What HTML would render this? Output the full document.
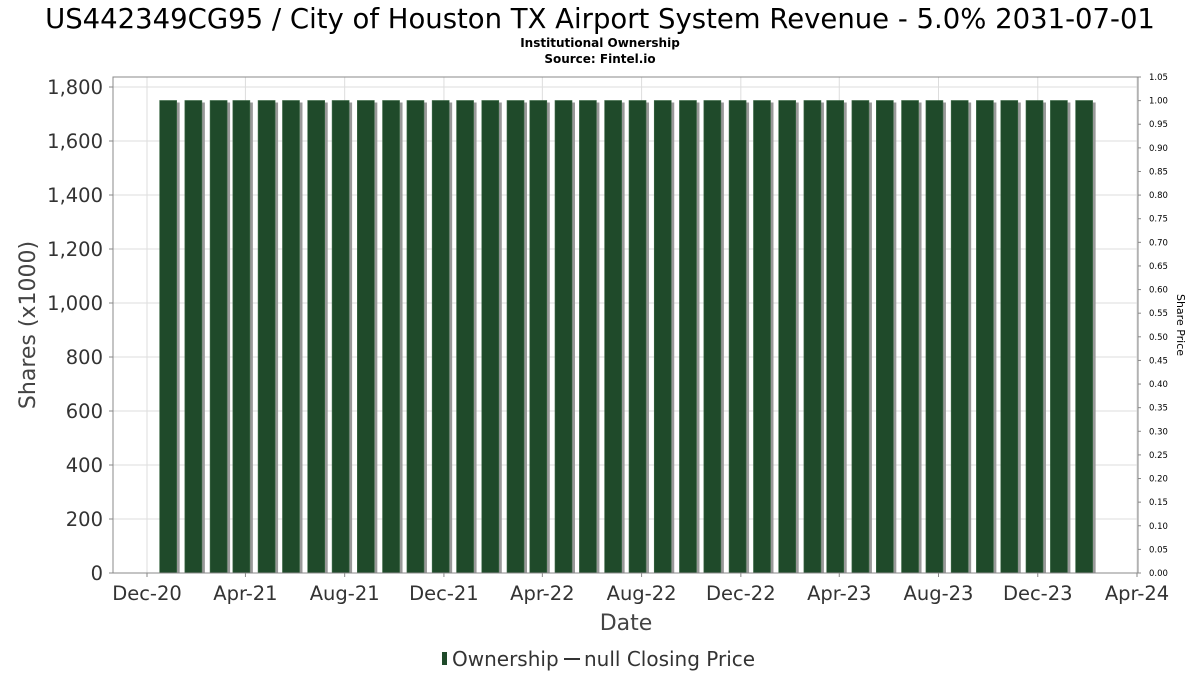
<!DOCTYPE html>
<html><head><meta charset="utf-8"><style>
body{margin:0;background:#fff;font-family:"DejaVu Sans","Liberation Sans",sans-serif;}
</style></head><body>
<svg id="c" width="1200" height="675" xmlns="http://www.w3.org/2000/svg">
<text x="600" y="28" text-anchor="middle" font-size="27.5" fill="#000">US442349CG95 / City of Houston TX Airport System Revenue - 5.0% 2031-07-01</text>
<text x="600" y="47" text-anchor="middle" font-size="12" font-weight="bold">Institutional Ownership</text>
<text x="600" y="63" text-anchor="middle" font-size="12" font-weight="bold">Source: Fintel.io</text>
<g id="grid"></g><g id="bars"></g><g id="axes"></g>
<text x="626" y="630" text-anchor="middle" font-size="22" fill="#444">Date</text>
<text transform="translate(35,325) rotate(-90)" text-anchor="middle" font-size="22" fill="#444">Shares (x1000)</text>
<text transform="translate(1177,325) rotate(90)" text-anchor="middle" font-size="11" fill="#000">Share Price</text>
<g>
<rect x="442" y="652" width="5" height="13" fill="#1f4a2a"/>
<text x="452" y="666" font-size="20" fill="#333">Ownership</text>
<line x1="564" y1="659" x2="580" y2="659" stroke="#333" stroke-width="2"/>
<text x="584" y="666" font-size="20" fill="#333">null Closing Price</text>
</g>
</svg>
<script>
const barDates=["2020-12-27","2021-01-27","2021-02-27","2021-03-27","2021-04-27","2021-05-27","2021-06-27","2021-07-27","2021-08-27","2021-09-27","2021-10-27","2021-11-27","2021-12-27","2022-01-27","2022-02-27","2022-03-27","2022-04-27","2022-05-27","2022-06-27","2022-07-27","2022-08-27","2022-09-27","2022-10-27","2022-11-27","2022-12-27","2023-01-27","2023-02-27","2023-03-27","2023-04-27","2023-05-27","2023-06-27","2023-07-27","2023-08-27","2023-09-27","2023-10-27","2023-11-27","2023-12-27","2024-01-27"];
const ownership=[1750,1750,1750,1750,1750,1750,1750,1750,1750,1750,1750,1750,1750,1750,1750,1750,1750,1750,1750,1750,1750,1750,1750,1750,1750,1750,1750,1750,1750,1750,1750,1750,1750,1750,1750,1750,1750,1750];
const xTickDates=["2020-12-01","2021-04-01","2021-08-01","2021-12-01","2022-04-01","2022-08-01","2022-12-01","2023-04-01","2023-08-01","2023-12-01","2024-04-01"];
const xTickLabels=["Dec-20","Apr-21","Aug-21","Dec-21","Apr-22","Aug-22","Dec-22","Apr-23","Aug-23","Dec-23","Apr-24"];
const yTicks=[0,200,400,600,800,1000,1200,1400,1600,1800];
const rTicks=[0,0.05,0.1,0.15,0.2,0.25,0.3,0.35,0.4,0.45,0.5,0.55,0.6,0.65,0.7,0.75,0.8,0.85,0.9,0.95,1,1.05];
const NS="http://www.w3.org/2000/svg";
const L=113,R=1138,T=77,B=573;
const d0=Date.UTC(2020,11,1),d1=Date.UTC(2024,3,1),X0=147,X1=1137;
const ms=s=>{const p=s.split('-');return Date.UTC(+p[0],p[1]-1,+p[2]);};
const x=s=>X0+(ms(s)-d0)/(d1-d0)*(X1-X0);
const y=v=>B-v/1837*(B-T);
const yr=v=>B-v/1.05*(B-T);
function mk(p,tag,a){const e=document.createElementNS(NS,tag);for(const k in a)e.setAttribute(k,a[k]);p.appendChild(e);return e;}
const grid=document.getElementById('grid'),bars=document.getElementById('bars'),axes=document.getElementById('axes');
mk(grid,'rect',{x:L,y:T,width:R-L,height:B-T,fill:'#fff'});
yTicks.forEach(v=>{const g=mk(grid,'line',{x1:L,x2:R,y1:y(v),y2:y(v),stroke:'#ddd'});


const t=mk(axes,'text',{x:L-10,y:y(v)+7,'text-anchor':'end','font-size':19.5,fill:'#333'});t.textContent=v.toLocaleString('en-US');


mk(axes,'line',{x1:L-4,x2:L,y1:y(v),y2:y(v),stroke:'#888'});});
xTickDates.forEach((d,i)=>{const g=mk(grid,'line',{x1:x(d),x2:x(d),y1:T,y2:B,stroke:'#ddd'});


mk(axes,'line',{x1:x(d),x2:x(d),y1:B,y2:B+4,stroke:'#888'});
const t=mk(axes,'text',{x:x(d),y:B+27,'text-anchor':'middle','font-size':19.5,fill:'#333'});t.textContent=xTickLabels[i];

});
rTicks.forEach(v=>{mk(axes,'line',{x1:R,x2:R+3,y1:yr(v),y2:yr(v),stroke:'#888'});
const t=mk(axes,'text',{x:R+11,y:yr(v)+3,'font-size':8.5,fill:'#000'});t.textContent=v.toFixed(2);

});
barDates.forEach((d,i)=>{const cx=x(d),w=17,top=y(ownership[i]);
mk(bars,'rect',{x:cx-w/2+3,y:top+2,width:w,height:B-top-2,fill:'#999'});
const b=mk(bars,'rect',{x:cx-w/2,y:top,width:w,height:B-top,fill:'#1f4a2a',stroke:'#3c6a46','stroke-width':0.6});

});
mk(axes,'rect',{x:L,y:T,width:R-L,height:B-T,fill:'none',stroke:'#888'});
</script>
</body></html>
